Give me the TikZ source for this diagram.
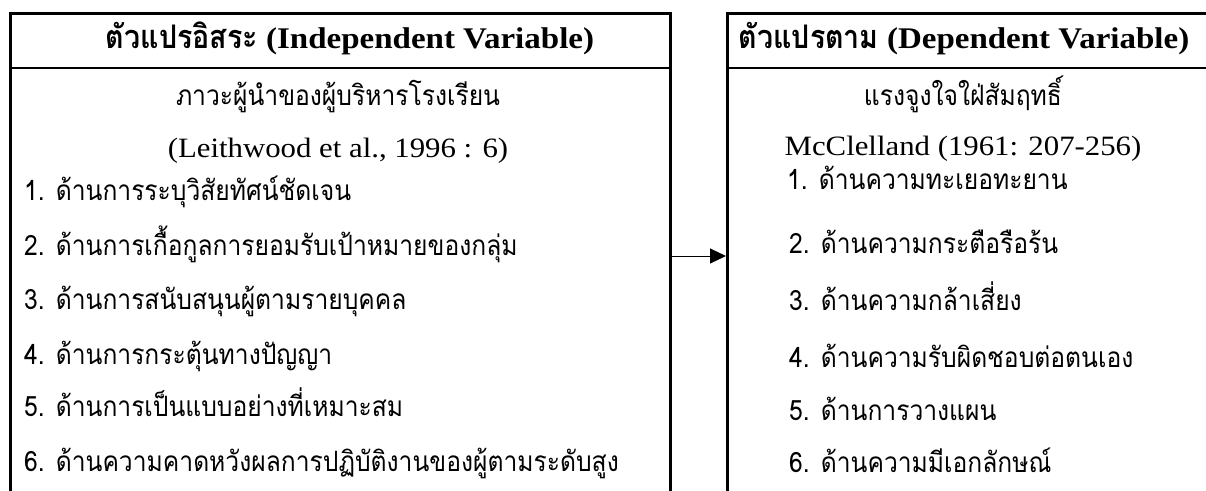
\documentclass[tikz,border=0pt]{standalone}
\usepackage{fontspec}
\setmainfont{Liberation Serif}[FakeStretch=1.1]
\newfontfamily\thai[Script=Thai, FakeStretch=0.88]{Loma}
\usetikzlibrary{arrows.meta}
\tikzset{
  boxframe/.style={draw=black, line width=2.6pt, rectangle, inner sep=0pt},
  hdrline/.style={draw=black, line width=2.6pt},
  linkarrow/.style={draw=black, line width=1pt, -{Triangle[length=16pt,width=15pt]}},
  hdrtext/.style={anchor=base, inner sep=0pt, font=\fontsize{30}{30}\selectfont\bfseries},
  subthai/.style={anchor=base, inner sep=0pt, font=\fontsize{28}{28}\selectfont\thai},
  cite/.style={anchor=base, inner sep=0pt, font=\fontsize{28}{28}\selectfont},
  itemtext/.style={anchor=base west, inner sep=0pt, font=\fontsize{28}{28}\selectfont\thai},
}
\newcommand{\hdrthai}[1]{{\fontsize{32.5}{32.5}\selectfont\thai #1}}
\begin{document}
\begin{tikzpicture}[x=1pt,y=-1pt]
\useasboundingbox (0,0) rectangle (1206,490);
% boxes
\node[boxframe, minimum width=660pt, minimum height=520pt, anchor=north west] (L) at (9,12) {};
\node[boxframe, minimum width=500pt, minimum height=520pt, anchor=north west] (R) at (726,12) {};
\coordinate (hdr) at (0,68);
\draw[hdrline] (L.west |- hdr) -- (L.east |- hdr);
\draw[hdrline] (R.west |- hdr) -- (R.east |- hdr);
% headers
\node[hdrtext] (Lh) at (350,48) {\hdrthai{ตัวแปรอิสระ} (Independent Variable)};
\node[hdrtext] (Rh) at (964,48) {\hdrthai{ตัวแปรตาม} (Dependent Variable)};
% left content
\node[subthai] (Ls) at (338,105) {ภาวะผู้นำของผู้บริหารโรงเรียน};
\node[cite] (Lc) at (338,157) {(Leithwood et al., 1996 : 6)};
\node[itemtext] (L1) at (24,200) {1. ด้านการระบุวิสัยทัศน์ชัดเจน};
\node[itemtext] (L2) at (24,255) {2. ด้านการเกื้อกูลการยอมรับเป้าหมายของกลุ่ม};
\node[itemtext] (L3) at (24,309) {3. ด้านการสนับสนุนผู้ตามรายบุคคล};
\node[itemtext] (L4) at (24,364) {4. ด้านการกระตุ้นทางปัญญา};
\node[itemtext] (L5) at (24,416) {5. ด้านการเป็นแบบอย่างที่เหมาะสม};
\node[itemtext] (L6) at (24,471) {6. ด้านความคาดหวังผลการปฏิบัติงานของผู้ตามระดับสูง};
% right content
\node[subthai] (Rs) at (963,105) {แรงจูงใจใฝ่สัมฤทธิ์};
\node[cite] (Rc) at (963,155) {McClelland (1961: 207-256)};
\node[itemtext] (R1) at (787,189) {1. ด้านความทะเยอทะยาน};
\node[itemtext] (R2) at (789,253) {2. ด้านความกระตือรือร้น};
\node[itemtext] (R3) at (789,310) {3. ด้านความกล้าเสี่ยง};
\node[itemtext] (R4) at (789,367) {4. ด้านความรับผิดชอบต่อตนเอง};
\node[itemtext] (R5) at (789,420) {5. ด้านการวางแผน};
\node[itemtext] (R6) at (789,472) {6. ด้านความมีเอกลักษณ์};
% connector
\coordinate (arr) at (0,256);
\draw[linkarrow] (L.east |- arr) -- (R.west |- arr);
\end{tikzpicture}
\end{document}
